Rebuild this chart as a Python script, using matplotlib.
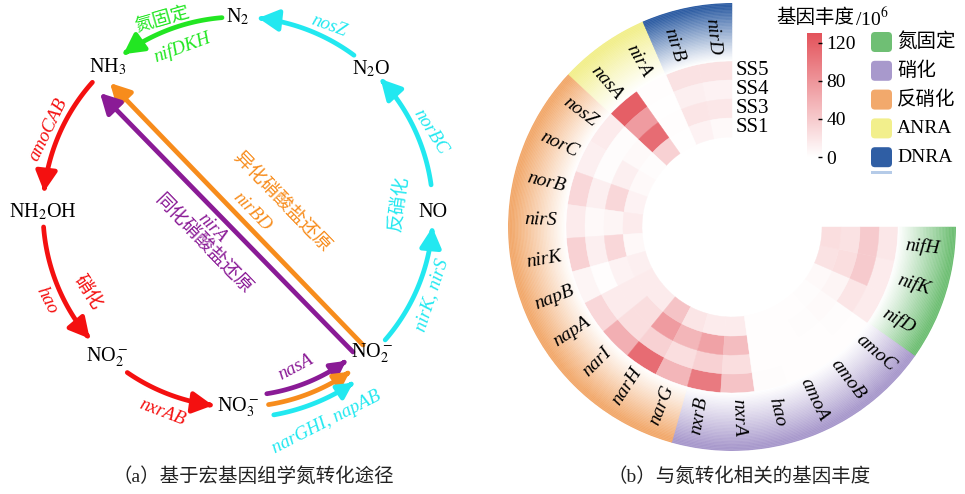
import numpy as np
import matplotlib
matplotlib.use('Agg')
import matplotlib.pyplot as plt
from matplotlib.patches import FancyArrowPatch, FancyBboxPatch, Rectangle
from matplotlib.path import Path
from matplotlib.colors import LinearSegmentedColormap, Normalize, to_rgb
from matplotlib.cm import ScalarMappable
import matplotlib.transforms as mtransforms

plt.rcParams['font.family'] = ['Liberation Serif', 'Noto Sans CJK SC']
plt.rcParams['mathtext.fontset'] = 'stix'

# ---------------- (a) nitrogen cycle ----------------
species = ['N$_2$', 'NH$_3$', 'N$_2$O', 'NH$_2$OH', 'NO', 'NO$_2^-$', 'NO$_3^-$', 'NO$_2^-$']
species_ang = [90, 132, 47, 180, 0, 228, 270, 313.6]   # position on the cycle (deg)

# curved steps along the cycle: start angle, end angle, colour key, radius offset
arc_start = [94.7, 53.5, 8, -41, 138.3, 184.4, 235.4, 279, 279, 280]
arc_end = [126, 84, 43, -4.5, 174, 220.5, 262.6, 306, 305, 304]
arc_color = ['green', 'cyan', 'cyan', 'cyan', 'red', 'red', 'red', 'purple', 'orange', 'cyan']
arc_dr = [0, 0, 0, 0, 0, 0, 0, -11, 0, 11]

# NO2- -> NH3 straight reductions
line_color = ['orange', 'purple']

# ---------------- (b) gene abundance ----------------
genes = ['nirD', 'nirB', 'nirA', 'nasA', 'nosZ', 'norC', 'norB', 'nirS', 'nirK', 'napB',
         'napA', 'narI', 'narH', 'narG', 'nxrB', 'nxrA', 'hao', 'amoA', 'amoB', 'amoC',
         'nifD', 'nifK', 'nifH']
gene_group = ['DNRA'] * 2 + ['ANRA'] * 2 + ['反硝化'] * 10 + ['硝化'] * 6 + ['氮固定'] * 3
samples = ['SS5', 'SS4', 'SS3', 'SS1']   # outer ring -> inner ring
ss5 = [22, 22, 2, 120, 15, 12, 30, 15, 35, 8, 30, 60, 110, 55, 100, 45, 3, 2, 2, 2, 15, 15, 18]
ss4 = [10, 12, 1, 75, 3, 3, 12, 5, 12, 2, 15, 25, 35, 25, 35, 25, 2, 2, 2, 3, 20, 40, 40]
ss3 = [18, 20, 2, 110, 5, 12, 30, 8, 30, 10, 15, 25, 75, 55, 70, 50, 2, 2, 3, 4, 8, 25, 22]
ss1 = [5, 10, 1, 35, 3, 5, 10, 15, 6, 12, 15, 15, 45, 20, 15, 15, 2, 2, 2, 3, 5, 22, 25]
abundance = [ss5, ss4, ss3, ss1]

groups = ['氮固定', '硝化', '反硝化', 'ANRA', 'DNRA']
cbar_ticks = [0, 40, 80, 120]

col = {'green': '#22e622', 'cyan': '#22e8f0', 'red': '#f41010',
       'orange': '#f78c1c', 'purple': '#8a1b96'}
group_col = {'氮固定': '#6fbf74', '硝化': '#a899cc', '反硝化': '#f2a96c',
             'ANRA': '#f2ef8c', 'DNRA': '#2f5ea4'}

fig = plt.figure(figsize=(9.65, 4.94), dpi=100)
ax = fig.add_axes([0, 0, 1, 1])
ax.set_xlim(0, 965)
ax.set_ylim(494, 0)
ax.axis('off')

cx, cy, R = 238, 212, 195


def pt(a, r=R):
    a = np.radians(a)
    return cx + r * np.cos(a), cy - r * np.sin(a)


for s, a in zip(species, species_ang):
    x, y = pt(a)
    ax.text(x, y, s, fontsize=14.5, ha='center', va='center')

for a0, a1, c, dr in zip(arc_start, arc_end, arc_color, arc_dr):
    aa = np.linspace(a0, a1, 40)
    verts = np.array([pt(a, R + dr) for a in aa])
    ms = 20 if dr == 0 and a0 < 270 else 15
    p = FancyArrowPatch(path=Path(verts), arrowstyle='-|>,head_length=0.6,head_width=0.32',
                        mutation_scale=ms, lw=3.4, color=col[c], shrinkA=0, shrinkB=0)
    ax.add_patch(p)

for c, (p0, p1) in zip(line_color, [((363, 345), (110, 83)), ((353, 352), (100, 93))]):
    ax.add_patch(FancyArrowPatch(p0, p1, arrowstyle='-|>,head_length=0.6,head_width=0.32',
                                 mutation_scale=20, lw=3.4, color=col[c], shrinkA=0, shrinkB=0))

labels_a = [
    ('氮固定', 163, 21, 16, 'green', 'normal'),
    ('nifDKH', 182, 47, 20, 'green', 'italic'),
    ('nosZ', 329, 26, -20, 'cyan', 'italic'),
    ('norBC', 430, 132, -58, 'cyan', 'italic'),
    ('反硝化', 400, 203, 82, 'cyan', 'normal'),
    ('nirK, nirS', 432, 295, 72, 'cyan', 'italic'),
    ('amoCAB', 48, 130, 64, 'red', 'italic'),
    ('hao', 47, 300, -63, 'red', 'italic'),
    ('硝化', 87, 293, -57, 'red', 'normal'),
    ('nxrAB', 162, 412, -21, 'red', 'italic'),
    ('nasA', 296, 367, 28, 'purple', 'italic'),
    ('narGHI, napAB', 327, 422, 27, 'cyan', 'italic'),
    ('异化硝酸盐还原', 281, 203, -46, 'orange', 'normal'),
    ('nirBD', 252, 212, -46, 'orange', 'italic'),
    ('nirA', 212, 228, -46, 'purple', 'italic'),
    ('同化硝酸盐还原', 202, 245, -46, 'purple', 'normal'),
]
for s, x, y, rot, c, st in labels_a:
    ax.text(x, y, s, color=col[c], rotation=rot, style=st, ha='center', va='center',
            rotation_mode='anchor', fontsize=13.5 if st == 'italic' else 13.5)

ax.text(253, 477, '（a）基于宏基因组学氮转化途径', fontsize=14, ha='center', va='center', color='#222222')
ax.text(739, 477, '（b）与氮转化相关的基因丰度', fontsize=14, ha='center', va='center', color='#222222')

# ---------------- circular heatmap ----------------
pcx, pcy, pR = 732, 227, 224
pax = fig.add_axes([(pcx - pR) / 965, (494 - pcy - pR) / 494, 2 * pR / 965, 2 * pR / 494],
                   projection='polar')
pax.set_ylim(0, pR)
pax.set_axis_off()

n = len(genes)
step = np.radians(270 / n)
theta = np.radians(90) + (np.arange(n) + 0.5) * step

cmap = LinearSegmentedColormap.from_list('wr', ['#ffffff', '#e3525a'])
norm = Normalize(0, 130)

r_in, w = 90, 19
for j, vals in enumerate(abundance):
    bottom = r_in + (len(samples) - 1 - j) * w
    cols = cmap(norm(np.array(vals)))
    pax.bar(theta, w, width=step, bottom=bottom, color=cols, edgecolor=cols, lw=0.3)

# gradient band for gene groups
band0, band1, nsteps = 166, pR, 40
dr = (band1 - band0) / nsteps
for g in groups:
    idx = [i for i, gg in enumerate(gene_group) if gg == g]
    t0 = np.radians(90) + idx[0] * step
    t1 = np.radians(90) + (idx[-1] + 1) * step
    base = np.array(to_rgb(group_col[g]))
    for k in range(nsteps):
        t = min(1.0, ((k + 0.5) / nsteps) ** 1.1 * 1.08)
        c = tuple(1 - t * (1 - base))
        pax.bar((t0 + t1) / 2, dr, width=t1 - t0, bottom=band0 + k * dr,
                color=c, edgecolor=c, lw=0.3)

for th, gname in zip(theta, genes):
    d = np.degrees(th) % 360
    rot = d - 180 if 90 < d < 270 else (d - 360 if d > 270 else d)
    pax.text(th, 191, gname, rotation=rot, rotation_mode='anchor', ha='center', va='center',
             style='italic', fontsize=14)

off = mtransforms.offset_copy(pax.transData, fig=fig, x=4, y=0, units='dots')
for j, s in enumerate(samples):
    rmid = r_in + (len(samples) - 1 - j) * w + w / 2
    pax.text(np.pi / 2, rmid, s, transform=off, ha='left', va='center', fontsize=15)

# colour bar
cax = fig.add_axes([807 / 965, 1 - 157 / 494, 15 / 965, 124 / 494])
cb = fig.colorbar(ScalarMappable(norm=norm, cmap=cmap), cax=cax, ticks=cbar_ticks)
cb.outline.set_visible(False)
cax.tick_params(labelsize=14, length=3, width=1, direction='in', pad=3)
ax.text(815, 18, '基因丰度', fontsize=14, ha='center', va='center')
ax.text(855, 18, '/10$^6$', fontsize=14, ha='left', va='center')

# group legend
for k, g in enumerate(groups):
    y = 42 + k * 28.8
    ax.add_patch(FancyBboxPatch((871, y - 10), 21, 20, boxstyle='round,pad=0,rounding_size=4',
                                fc=group_col[g], ec='none'))
    ax.text(897, y, g, fontsize=14, ha='left', va='center')
ax.add_patch(Rectangle((871, 171), 21, 3, fc='#b5cbe8', ec='none'))

fig.savefig('out.png', dpi=100)
